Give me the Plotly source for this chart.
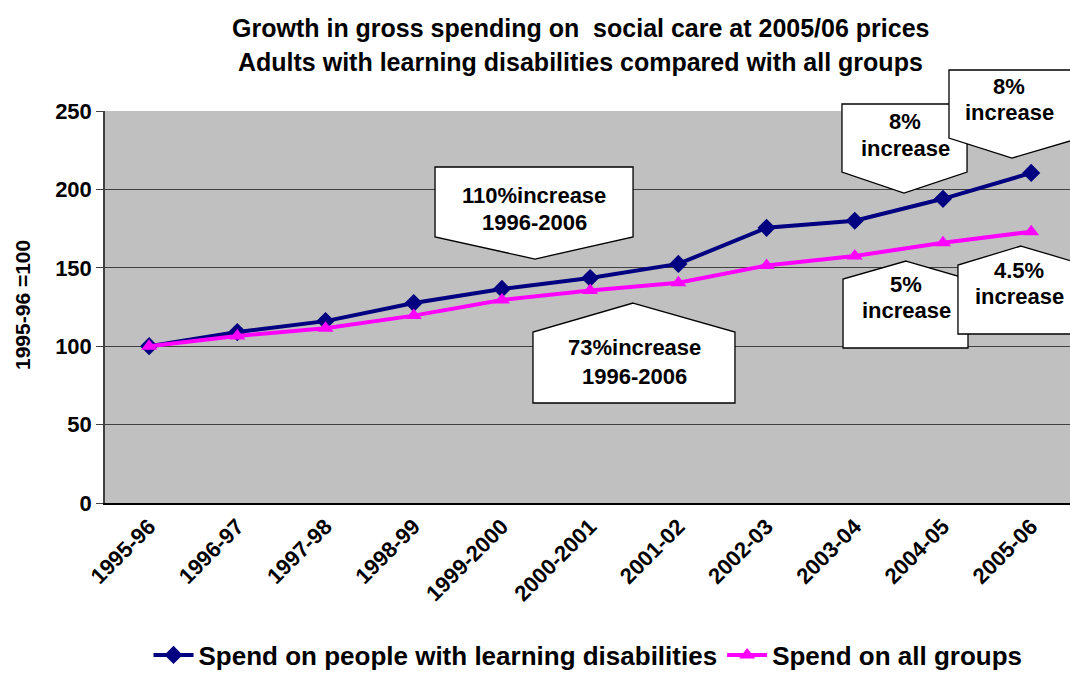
import plotly.graph_objects as go

categories = ["1995-96", "1996-97", "1997-98", "1998-99", "1999-2000", "2000-2001",
              "2001-02", "2002-03", "2003-04", "2004-05", "2005-06"]
learning_disabilities = [100, 109, 116, 127.5, 136.5, 143.5, 152.5, 175.5, 180, 194, 210.5]
all_groups = [100, 106.5, 111.5, 119.5, 129.5, 135.5, 140.5, 151.5, 157.5, 166, 173]
series_names = ["Spend on people with learning disabilities", "Spend on all groups"]

W, H = 1070, 673
L, R, T, B = 105, 0, 111, 170
PW, PH = W - L - R, H - T - B
FONT = "Liberation Sans"


def px(x, y):
    return (x - L) / PW, (H - B - y) / PH


def path(points):
    pts = [px(x, y) for x, y in points]
    return "M " + " L ".join(f"{a:.4f},{b:.4f}" for a, b in pts) + " Z"


fig = go.Figure()
fig.add_trace(go.Scatter(
    x=list(range(len(categories))), y=learning_disabilities, name=series_names[0],
    mode="lines+markers", line=dict(color="#000080", width=4),
    marker=dict(symbol="diamond", size=14, color="#000080")))
fig.add_trace(go.Scatter(
    x=list(range(len(categories))), y=all_groups, name=series_names[1],
    mode="lines+markers", line=dict(color="#FF00FF", width=4),
    marker=dict(symbol="triangle-up", size=14, color="#FF00FF")))

callouts = [
    ([(435, 167), (633, 167), (633, 237), (535, 259), (435, 237)], 534, [("110%increase", 195), ("1996-2006", 222)]),
    ([(633, 303), (735, 332), (735, 403), (533, 403), (533, 332)], 634, [("73%increase", 347), ("1996-2006", 376)]),
    ([(842, 104), (967, 104), (967, 172), (904, 193), (842, 172)], 905, [("8%", 122), ("increase", 148)]),
    ([(949, 70), (1080, 70), (1080, 138), (1012, 158), (949, 138)], 1009, [("8%", 87), ("increase", 113)]),
    ([(906, 261), (968, 279), (968, 348), (843, 348), (843, 279)], 906, [("5%", 284), ("increase", 310)]),
    ([(1021, 246), (1085, 265), (1085, 334), (958, 334), (958, 265)], 1019, [("4.5%", 270), ("increase", 296)]),
]

shapes = []
annotations = []
for pts, cx, lines in callouts:
    shapes.append(dict(type="path", xref="paper", yref="paper", path=path(pts),
                       fillcolor="white", line=dict(color="black", width=1.3), layer="above"))
    for txt, ty in lines:
        ax, ay = px(cx, ty)
        annotations.append(dict(xref="paper", yref="paper", x=ax, y=ay, text=f"<b>{txt}</b>",
                                showarrow=False, xanchor="center", yanchor="middle",
                                font=dict(family=FONT, size=22, color="black")))

# Title
for txt, ty in [("Growth in gross spending on  social care at 2005/06 prices", 28),
                ("Adults with learning disabilities compared with all groups", 62)]:
    ax, ay = px(580, ty)
    annotations.append(dict(xref="paper", yref="paper", x=ax, y=ay, text=f"<b>{txt}</b>",
                            showarrow=False, xanchor="center", yanchor="middle",
                            font=dict(family=FONT, size=25, color="black")))

# Y axis title
ax, ay = px(22, 305)
annotations.append(dict(xref="paper", yref="paper", x=ax, y=ay, text="<b>1995-96 =100</b>",
                        showarrow=False, textangle=-90, xanchor="center", yanchor="middle",
                        font=dict(family=FONT, size=21, color="black")))

lx, ly = px(588, 655)
fig.update_layout(
    width=W, height=H,
    margin=dict(l=L, r=R, t=T, b=B, pad=0, autoexpand=False),
    paper_bgcolor="white", plot_bgcolor="#C0C0C0",
    shapes=shapes, annotations=annotations,
    showlegend=True,
    legend=dict(orientation="h", x=lx, y=ly, xanchor="center", yanchor="middle",
                font=dict(family=FONT, size=26, color="black", weight="bold"),
                itemwidth=40, bgcolor="rgba(0,0,0,0)"),
    font=dict(family=FONT, color="black"),
)
fig.update_xaxes(
    tickmode="array", tickvals=list(range(len(categories))),
    ticktext=[f"<b>{c}</b>" for c in categories],
    range=[-0.5, 10.44], tickangle=-45, showgrid=False, zeroline=False,
    showline=True, linecolor="black", linewidth=2, ticks="",
    tickfont=dict(family=FONT, size=22, color="black"))
fig.update_yaxes(
    range=[0, 250], tickvals=[0, 50, 100, 150, 200, 250],
    ticktext=[f"<b>{v}</b>" for v in [0, 50, 100, 150, 200, 250]],
    showgrid=True, gridcolor="#404040", gridwidth=1, zeroline=False,
    showline=True, linecolor="#404040", linewidth=1.5,
    ticks="outside", ticklen=7, tickcolor="#404040",
    tickfont=dict(family=FONT, size=22, color="black"))

fig.write_html("out.html", config={"displayModeBar": False},
               post_script="document.body.style.margin='0';document.body.style.overflow='hidden';")
